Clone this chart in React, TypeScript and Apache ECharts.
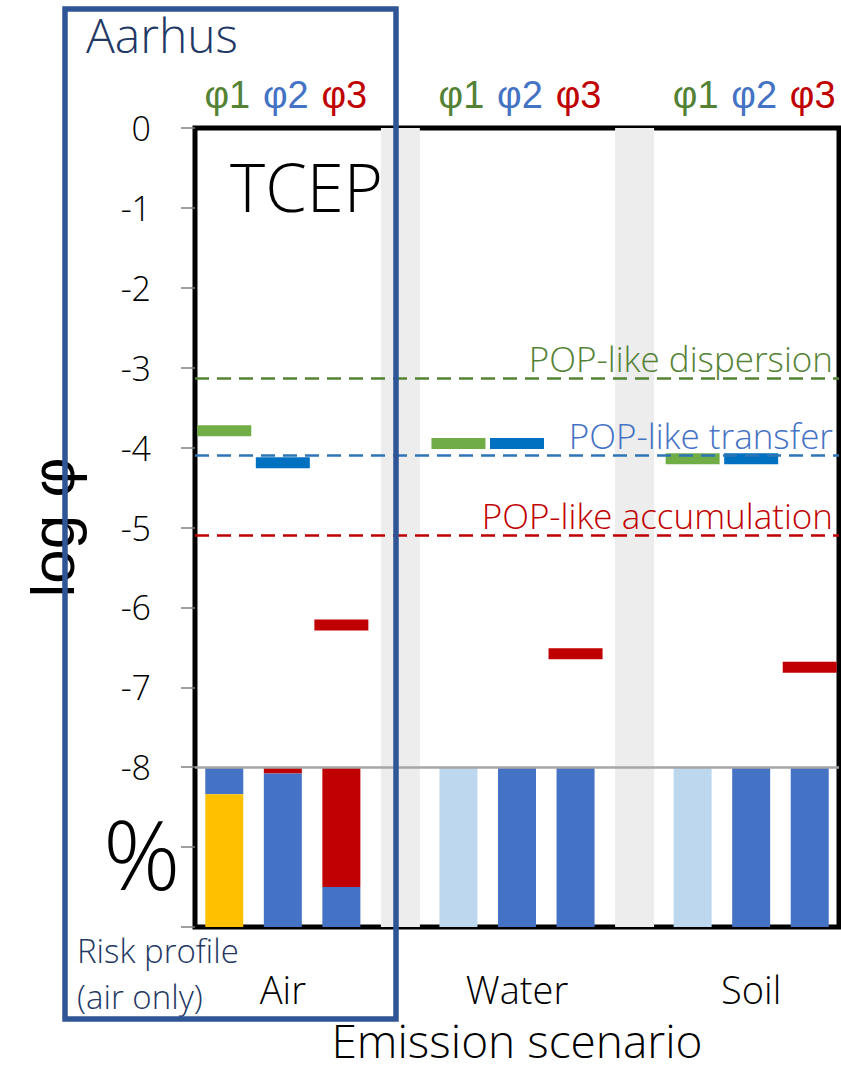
import React, { useEffect, useRef } from "react";
import * as echarts from "echarts";

// ---------- data ----------
const scenarios = ["Air", "Water", "Soil"];
const phiNames = ["φ1", "φ2", "φ3"];
// log φ per scenario (Air, Water, Soil)
const phi1 = [-3.79, -3.95, -4.14];
const phi2 = [-4.19, -3.95, -4.14];
const phi3 = [-6.22, -6.58, -6.75];
// POP-like reference levels (log φ)
const thresholdNames = ["POP-like dispersion", "POP-like transfer", "POP-like accumulation"];
const thresholdValues = [-3.13, -4.09, -5.1];
// risk profile shares (%), per bar: Air φ1..φ3, Water φ1..φ3, Soil φ1..φ3
const shareRed = [0, 4, 75, 0, 0, 0, 0, 0, 0];
const shareLightBlue = [0, 0, 0, 100, 0, 0, 100, 0, 0];
const shareBlue = [17, 96, 25, 0, 100, 100, 0, 100, 100];
const shareYellow = [83, 0, 0, 0, 0, 0, 0, 0, 0];
const yTicks = { min: -10, max: 0, interval: 1, lowestLabel: -8 };
const profileTop = -8; // where the % panel starts
const profileSpan = 2; // log units covering 100 %

// slots: 3 per scenario with a separator between scenarios
const slots: string[] = [];
scenarios.forEach((s, i) => {
  phiNames.forEach((p) => slots.push(s + " " + p));
  if (i < scenarios.length - 1) slots.push("sep" + i);
});
const slotIndex = (si: number, pi: number) => si * 4 + pi;
const isSep = (idx: number) => idx % 4 === 3;

function shareToSlots(arr: number[]) {
  const out: any[] = slots.map(() => "-");
  arr.forEach((v, k) => {
    const si = Math.floor(k / 3);
    const pi = k % 3;
    out[slotIndex(si, pi)] = v ? -(v / 100) * profileSpan : "-";
  });
  return out;
}
function phiPoints(vals: number[], pi: number) {
  return vals.map((v, si) => [slotIndex(si, pi), v]);
}

const FONT = "'Open Sans', 'Noto Sans', sans-serif";
const PHI_FONT = "'Liberation Sans', Arial, sans-serif";
const W = 300;
const GREEN_TXT = "#548235";
const BLUE_TXT = "#4472C4";
const RED = "#C00000";

export default function App() {
  const ref = useRef<HTMLDivElement>(null);
  useEffect(() => {
    document.body.style.margin = "0";
    const chart = echarts.init(ref.current!, null, { renderer: "svg" });
    const barCommon = { barWidth: 38, barGap: "-100%", silent: true };
    const thresholdColors = [
      { line: "#548235", text: GREEN_TXT },
      { line: "#2E75B6", text: BLUE_TXT },
      { line: RED, text: RED },
    ];
    const phiRich = (color: string) => ({
      color,
      fontSize: 38,
      fontFamily: PHI_FONT,
      fontWeight: W,
      padding: [0, 0, 0, 6],
    });
    const option: any = {
      animation: false,
      textStyle: { fontFamily: FONT, fontWeight: W },
      grid: {
        left: 195,
        right: 2,
        top: 128,
        bottom: 145,
        show: true,
        borderColor: "#000",
        borderWidth: 5,
        backgroundColor: "transparent",
      },
      xAxis: [
        {
          type: "category",
          data: slots,
          position: "bottom",
          axisLine: { show: false },
          axisTick: { show: false },
          axisLabel: {
            interval: 0,
            margin: 43,
            fontSize: 38,
            color: "#000",
            fontFamily: FONT,
            fontWeight: W,
            formatter: (_v: string, idx: number) => {
              if (isSep(idx)) return "";
              const si = Math.floor(idx / 4);
              return idx % 4 === 1 ? scenarios[si] : "";
            },
          },
        },
        {
          type: "category",
          data: slots,
          position: "top",
          axisLine: { show: false },
          axisTick: { show: false },
          axisLabel: {
            interval: 0,
            margin: 14,
            formatter: (_v: string, idx: number) => {
              if (isSep(idx)) return "";
              const pi = idx % 4;
              return "{p" + pi + "|" + phiNames[pi] + "}";
            },
            rich: {
              p0: phiRich(GREEN_TXT),
              p1: phiRich(BLUE_TXT),
              p2: phiRich(RED),
            },
          },
        },
      ],
      yAxis: {
        type: "value",
        min: yTicks.min,
        max: yTicks.max,
        interval: yTicks.interval,
        splitLine: { show: false },
        axisLine: { show: false },
        axisTick: { show: true, length: 14, lineStyle: { color: "#7F7F7F", width: 1.5 } },
        axisLabel: {
          margin: 44,
          fontSize: 34,
          color: "#000",
          fontFamily: FONT,
          fontWeight: W,
          formatter: (v: number) => (v >= yTicks.lowestLabel ? String(v) : ""),
        },
        name: "log φ",
        nameLocation: "middle",
        nameRotate: 90,
        nameGap: 112,
        nameTextStyle: { fontSize: 62, color: "#000", fontFamily: PHI_FONT, fontWeight: W },
      },
      series: [
        {
          type: "bar",
          name: "separator",
          ...barCommon,
          barWidth: 39,
          itemStyle: { color: "#EDEDED" },
          data: slots.map((_s, i) => (isSep(i) ? yTicks.min : "-")),
          markLine: {
            silent: true,
            symbol: "none",
            z: 10,
            data: [
              ...thresholdValues.map((v, k) => ({
                yAxis: v,
                lineStyle: { color: thresholdColors[k].line, type: [14, 8], width: 2.5 },
                label: {
                  show: true,
                  position: "insideEndTop",
                  formatter: thresholdNames[k],
                  color: thresholdColors[k].text,
                  fontSize: 35,
                  fontFamily: FONT,
                  fontWeight: W,
                  distance: [6, 2],
                },
              })),
              {
                yAxis: profileTop,
                lineStyle: { color: "#A6A6A6", type: "solid", width: 2.5 },
                label: { show: false },
              },
            ],
          },
        },
        {
          type: "bar",
          name: "base",
          stack: "profile",
          ...barCommon,
          itemStyle: { color: "transparent" },
          data: slots.map((_s, i) => (isSep(i) ? "-" : profileTop)),
        },
        { type: "bar", name: "red", stack: "profile", ...barCommon, itemStyle: { color: "#C00000" }, data: shareToSlots(shareRed) },
        { type: "bar", name: "lightblue", stack: "profile", ...barCommon, itemStyle: { color: "#BDD7EE" }, data: shareToSlots(shareLightBlue) },
        { type: "bar", name: "blue", stack: "profile", ...barCommon, itemStyle: { color: "#4472C4" }, data: shareToSlots(shareBlue) },
        { type: "bar", name: "yellow", stack: "profile", ...barCommon, itemStyle: { color: "#FFC000" }, data: shareToSlots(shareYellow) },
        { type: "scatter", name: "φ1", symbol: "rect", symbolSize: [54, 11], itemStyle: { color: "#70AD47", opacity: 1 }, data: phiPoints(phi1, 0), z: 5 },
        { type: "scatter", name: "φ2", symbol: "rect", symbolSize: [54, 11], itemStyle: { color: "#0070C0", opacity: 1 }, data: phiPoints(phi2, 1), z: 5 },
        { type: "scatter", name: "φ3", symbol: "rect", symbolSize: [54, 11], itemStyle: { color: "#C00000", opacity: 1 }, data: phiPoints(phi3, 2), z: 5 },
      ],
      graphic: [
        {
          type: "text",
          left: 230,
          top: 152,
          style: { text: "TCEP", fontSize: 67, fill: "#000", fontFamily: FONT, fontWeight: W },
          z: 20,
        },
        {
          type: "text",
          left: 103,
          top: 804,
          style: { text: "%", fontSize: 96, fill: "#000", fontFamily: FONT, fontWeight: W },
          z: 20,
        },
        {
          type: "text",
          left: 86,
          top: 10,
          style: { text: "Aarhus", fontSize: 48, fill: "#1F3864", fontFamily: FONT, fontWeight: W },
          z: 20,
        },
        {
          type: "text",
          left: 77,
          top: 927,
          style: { text: "Risk profile\n(air only)", fontSize: 33, lineHeight: 46, fill: "#1F3864", fontFamily: FONT, fontWeight: W },
          z: 20,
        },
        {
          type: "text",
          x: 517,
          y: 1040,
          style: {
            text: "Emission scenario",
            fontSize: 46,
            fill: "#000",
            fontFamily: FONT,
            fontWeight: W,
            align: "center",
            verticalAlign: "middle",
          },
          z: 20,
        },
        {
          type: "rect",
          shape: { x: 65, y: 9, width: 331, height: 1010 },
          style: { fill: "none", stroke: "#2F5597", lineWidth: 5.5 },
          z: 30,
          silent: true,
        },
      ],
    };
    chart.setOption(option);
    return () => chart.dispose();
  }, []);
  return <div ref={ref} style={{ width: 841, height: 1072 }} />;
}
